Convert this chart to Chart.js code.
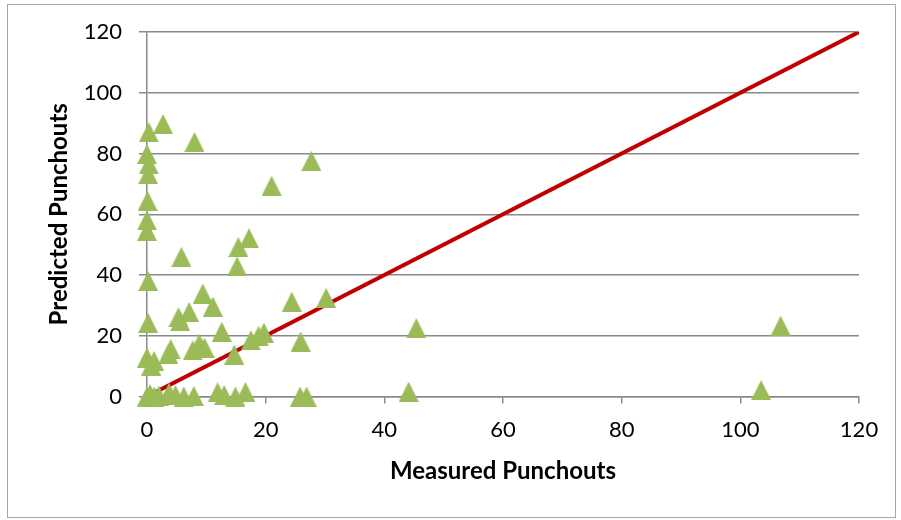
<!DOCTYPE html>
<html>
<head>
<meta charset="utf-8">
<script src="https://cdn.jsdelivr.net/npm/chart.js@4.4.1/dist/chart.umd.min.js"></script>
<style>
  body { margin: 0; background: #fff; }
  #wrap { position: relative; width: 901px; height: 520px; }
  #frame { position: absolute; left: 7px; top: 4px; width: 887px; height: 512px; border: 1.5px solid #a6a6a6; }
  #myChart { position: absolute; left: 0; top: 0; }
</style>
</head>
<body>
<div id="wrap">
  <div id="frame"></div>
  <canvas id="myChart" width="901" height="520"></canvas>
</div>
<script>
// measured vs predicted punchouts
var measured = [
    2.7, 0.3, 8.0, 0.0, 0.3, 0.2, 0.1, 0.0, 0.0, 5.8,
    0.2, 15.2, 15.4, 17.2, 21.0, 27.7, 9.4, 11.1, 7.1, 5.3,
    5.6, 0.2, 12.6, 17.5, 18.8, 19.7, 24.4, 30.2, 25.9, 14.7,
    7.7, 8.8, 9.7, 4.0, 3.6, 0.0, 1.2, 0.7,
    0.0, 0.5, 1.2, 2.0, 3.7, 4.8, 6.2, 7.9, 11.9, 13.0,
    14.9, 16.6, 25.8, 26.9,
    45.4, 44.1, 103.5, 106.8
];
var predicted = [
    89.7, 87.0, 83.8, 79.8, 76.5, 73.2, 64.4, 58.0, 54.5, 46.0,
    38.0, 42.8, 49.2, 52.1, 69.4, 77.6, 33.9, 29.6, 27.8, 26.1,
    24.8, 24.2, 21.3, 18.5, 20.0, 21.0, 31.2, 32.5, 18.1, 13.8,
    15.2, 17.4, 16.1, 15.6, 14.0, 12.8, 11.7, 10.2,
    0.0, 0.8, 0.0, 0.3, 1.2, 0.5, 0.0, 0.2, 1.4, 0.5,
    0.0, 1.5, 0.0, 0.0,
    22.5, 1.6, 2.1, 23.3
];
// 1:1 reference line
var lineX = [0, 120];
var lineY = [0, 120];
var tickValues = [0, 20, 40, 60, 80, 100, 120];

var points = measured.map(function (v, i) { return {x: v, y: predicted[i]}; });
var linePts = lineX.map(function (v, i) { return {x: v, y: lineY[i]}; });

// excel style triangle marker
var tri = document.createElement('canvas');
tri.width = 20;
tri.height = 20;
var tctx = tri.getContext('2d');
tctx.fillStyle = '#9bbb59';
tctx.beginPath();
tctx.moveTo(10, 0);
tctx.lineTo(20, 20);
tctx.lineTo(0, 20);
tctx.closePath();
tctx.fill();

var gray = '#898989';
var ctx = document.getElementById('myChart').getContext('2d');
var myChart = new Chart(ctx, {
    type: 'scatter',
    data: {
        datasets: [{
            label: 'Punchouts',
            data: points,
            pointStyle: tri,
            pointRadius: 10,
            clip: false
        }, {
            type: 'line',
            label: 'Line of equality',
            data: linePts,
            borderColor: '#c00000',
            borderWidth: 4,
            pointRadius: 0,
            fill: false
        }]
    },
    options: {
        responsive: false,
        animation: false,
        layout: {
            padding: {left: 0, top: 32, right: 42, bottom: 0}
        },
        plugins: {
            legend: { display: false },
            tooltip: { enabled: false }
        },
        scales: {
            x: {
                type: 'linear',
                min: 0,
                max: 120,
                afterFit: function (scale) { scale.height = 123.5; },
                afterBuildTicks: function (scale) {
                    scale.ticks = tickValues.map(function (v) { return {value: v}; });
                },
                border: { color: gray, width: 1.5 },
                grid: {
                    drawOnChartArea: false,
                    tickLength: 7,
                    color: gray,
                    lineWidth: 1.5
                },
                ticks: {
                    padding: 13,
                    color: '#000',
                    font: { family: 'Lato', size: 22 }
                },
                title: {
                    display: true,
                    text: 'Measured Punchouts',
                    color: '#000',
                    font: { family: 'Lato', size: 24, weight: 'bold' },
                    padding: { top: 0, bottom: 34 }
                }
            },
            y: {
                min: 0,
                max: 120,
                afterFit: function (scale) { scale.width = 147; },
                afterBuildTicks: function (scale) {
                    scale.ticks = tickValues.map(function (v) { return {value: v}; });
                },
                border: { color: gray, width: 1.5 },
                grid: {
                    tickLength: 8,
                    color: gray,
                    lineWidth: 1.5
                },
                ticks: {
                    padding: 17,
                    color: '#000',
                    font: { family: 'Lato', size: 22 }
                },
                title: {
                    display: true,
                    text: 'Predicted Punchouts',
                    color: '#000',
                    font: { family: 'Lato', size: 24, weight: 'bold' },
                    padding: { top: 45, bottom: 0 }
                }
            }
        }
    }
});
</script>
</body>
</html>
